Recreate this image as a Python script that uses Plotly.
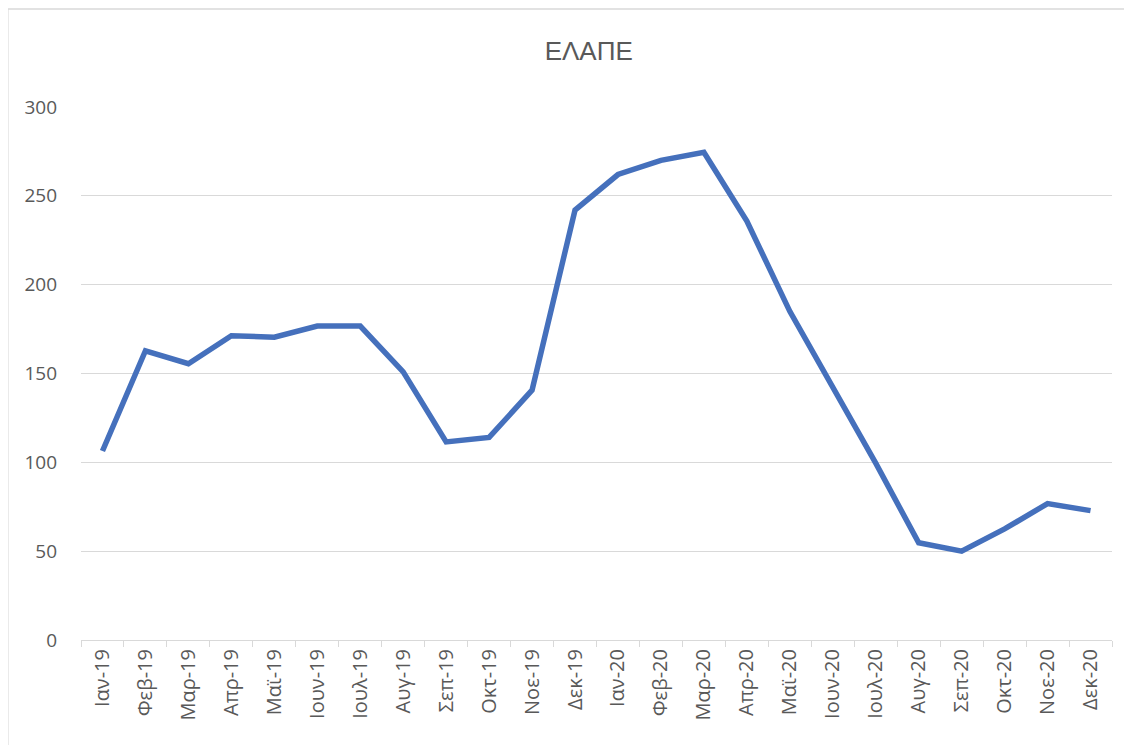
import plotly.graph_objects as go

months = ["Ιαν-19", "Φεβ-19", "Μαρ-19", "Απρ-19", "Μαϊ-19", "Ιουν-19", "Ιουλ-19", "Αυγ-19",
          "Σεπ-19", "Οκτ-19", "Νοε-19", "Δεκ-19", "Ιαν-20", "Φεβ-20", "Μαρ-20", "Απρ-20",
          "Μαϊ-20", "Ιουν-20", "Ιουλ-20", "Αυγ-20", "Σεπ-20", "Οκτ-20", "Νοε-20", "Δεκ-20"]
values = [106.4, 162.8, 155.5, 171.3, 170.4, 176.7, 176.7, 150.9,
          111.5, 114.0, 140.6, 242.0, 262.0, 270.0, 274.5, 235.8,
          185.0, 143.0, 99.5, 54.7, 50.0, 62.5, 76.8, 72.8]
y_ticks = [0, 50, 100, 150, 200, 250, 300]
title_text = "ΕΛΑΠΕ"

fig = go.Figure()
fig.add_trace(go.Scatter(x=months, y=values, mode="lines",
                         line=dict(color="#4570BC", width=5.5), showlegend=False))

fig.update_layout(
    width=1132, height=745,
    margin=dict(l=73, r=28, t=99, b=113),
    paper_bgcolor="white", plot_bgcolor="white",
    title=dict(text=title_text, x=0.513, xanchor="center", y=0.943, yanchor="middle",
               font=dict(family="Liberation Sans Narrow, Liberation Sans", size=26, color="#595959")),
    xaxis=dict(type="category", tickangle=-90, tickson="boundaries", ticks="outside",
               ticklen=6, tickcolor="#d9d9d9", showline=True, linecolor="#d9d9d9", linewidth=1,
               showgrid=False, tickfont=dict(family="Open Sans", size=20, color="#595959"),
               range=[-0.5, len(months) - 0.5]),
    yaxis=dict(range=[0, 300], tickvals=y_ticks, showgrid=True, gridcolor="#d9d9d9", gridwidth=1,
               zeroline=False, showline=False, ticks="", ticklabelstandoff=23,
               tickfont=dict(family="Open Sans", size=19, color="#595959")),
    shapes=[dict(type="rect", xref="paper", yref="paper",
                 x0=-0.071, x1=1.05, y0=-0.3, y1=1.184,
                 line=dict(color="#d9d9d9", width=1.5), fillcolor="rgba(0,0,0,0)", layer="below")],
)

fig.write_html("out.html")
